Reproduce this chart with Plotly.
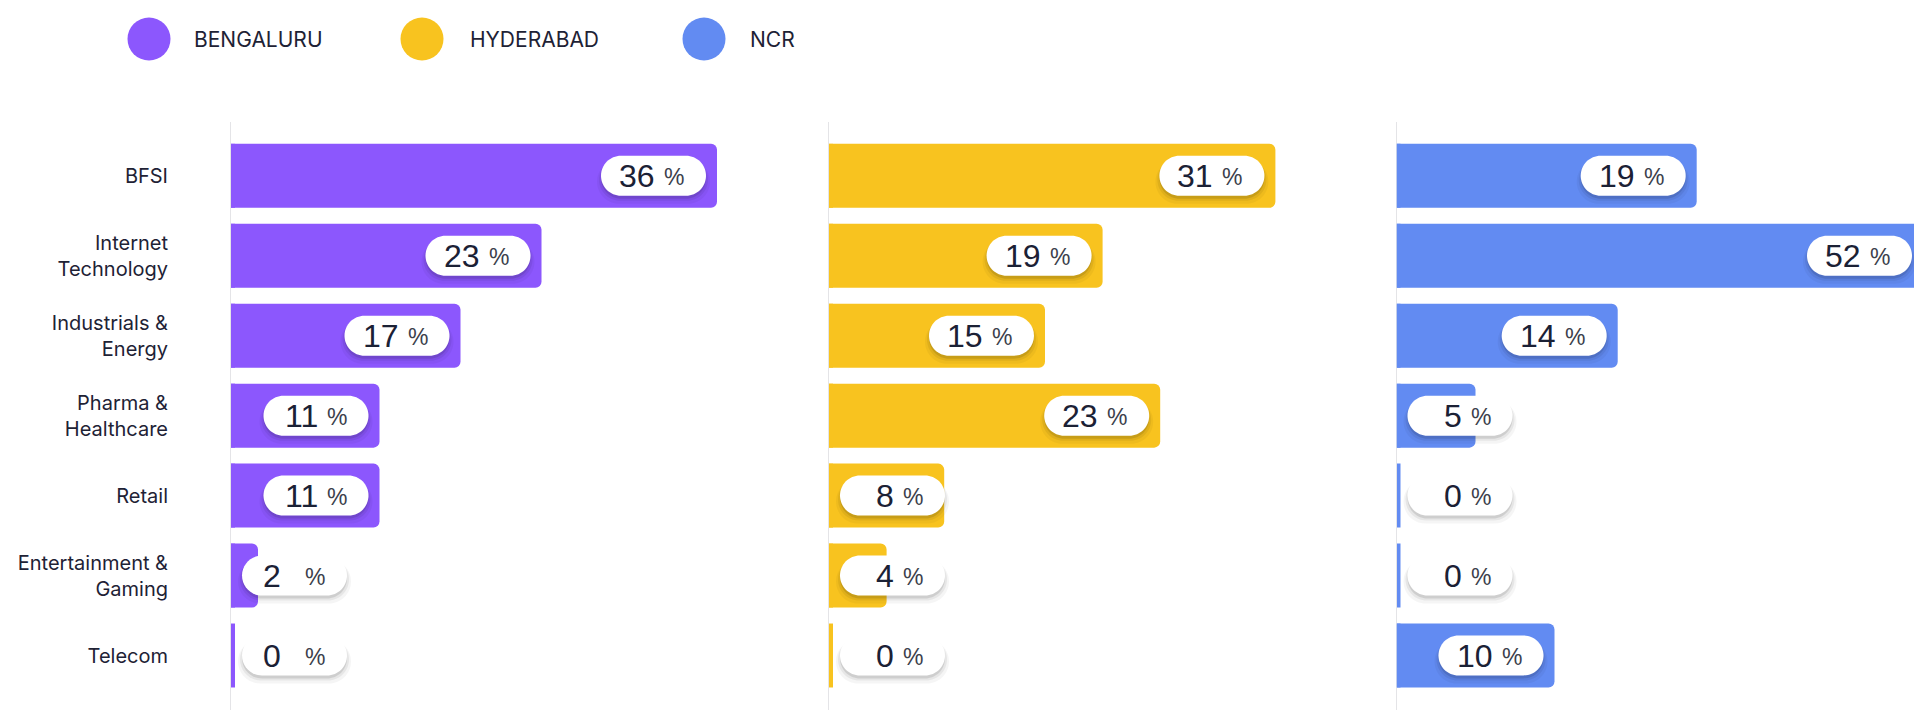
import plotly.graph_objects as go

# ---------------- data ----------------
categories = ["BFSI", "Internet Technology", "Industrials & Energy", "Pharma & Healthcare",
              "Retail", "Entertainment & Gaming", "Telecom"]
category_labels = ["BFSI", "Internet<br>Technology", "Industrials &<br>Energy", "Pharma &<br>Healthcare",
                   "Retail", "Entertainment &<br>Gaming", "Telecom"]
cities = ["BENGALURU", "HYDERABAD", "NCR"]
bengaluru = [36, 23, 17, 11, 11, 2, 0]
hyderabad = [31, 19, 15, 23, 8, 4, 0]
ncr = [19, 52, 14, 5, 0, 0, 10]
series = [bengaluru, hyderabad, ncr]

# ---------------- style / layout ----------------
colors = ["#8C57FD", "#F8C31F", "#628BF2"]
W, H = 1914, 710
panel_px = [(231, 810), (829, 1380), (1396.5, 1914)]
px_per_unit = [13.5, 14.4, 15.8]
plot_top_px = 122
n = len(categories)
row_px = 79.95
top_pad = (175.8 - plot_top_px) / row_px
y_units = (H - plot_top_px) / row_px
y_range = [y_units - top_pad, -top_pad]
label_color = "#1E2235"
FONT = "Inter, Roboto, sans-serif"
NUM_FONT = "'Liberation Sans', Arial, sans-serif"

fig = go.Figure()
shapes = []
annotations = []

PILL_W, PILL_H, PILL_GAP = 105, 40, 11
K = 0.5523


def pill_path(L, R, cy, h=PILL_H):
    r = h / 2
    k = K * r
    lx, rx = L + r, R - r
    return (f"M {lx},{cy + r} L {rx},{cy + r} "
            f"C {rx + k},{cy + r} {R},{cy + k} {R},{cy} "
            f"C {R},{cy - k} {rx + k},{cy - r} {rx},{cy - r} "
            f"L {lx},{cy - r} "
            f"C {lx - k},{cy - r} {L},{cy - k} {L},{cy} "
            f"C {L},{cy + k} {lx - k},{cy + r} {lx},{cy + r} Z")


for p, (vals, color, name) in enumerate(zip(series, colors, cities)):
    idx = "" if p == 0 else str(p + 1)
    xa, ya = "x" + idx, "y" + idx
    a_px, b_px = panel_px[p]
    dom_w = b_px - a_px
    rng = dom_w / px_per_unit[p]

    fig.add_trace(go.Bar(
        x=vals, y=list(range(n)), orientation="h", name=name,
        marker=dict(color=color, cornerradius=6, line=dict(width=0)),
        width=0.8, xaxis=xa, yaxis=ya, showlegend=False, hoverinfo="skip",
    ))

    fig.update_layout({
        "xaxis" + idx: dict(domain=[a_px / W, b_px / W], range=[0, rng], visible=False,
                            fixedrange=True),
        "yaxis" + idx: dict(domain=[0, (H - plot_top_px) / H], anchor=xa, range=y_range,
                            tickvals=list(range(n)), ticktext=category_labels,
                            showticklabels=(p == 0), ticks="", showgrid=False, zeroline=False,
                            showline=True, linecolor="#E4E4E7", linewidth=1,
                            layer="below traces", ticklabelstandoff=58,
                            tickfont=dict(family=FONT, size=20, color=label_color),
                            fixedrange=True),
    })

    for i, v in enumerate(vals):
        # minimum stub for tiny bars
        shapes.append(dict(type="rect", xref=xa, yref=ya, xsizemode="pixel", xanchor=0,
                           x0=0, x1=4, y0=i - 0.4, y1=i + 0.4, fillcolor=color,
                           line=dict(width=0), layer="below"))
        bar_w = v * px_per_unit[p]
        R = max(bar_w - PILL_GAP, PILL_GAP + PILL_W)
        R = min(R, dom_w - 2)
        L = R - PILL_W
        # shadows
        for dy, grow, op in [(-3, 0, 0.10), (-4, 2, 0.06), (-6, 4, 0.04)]:
            shapes.append(dict(type="path", xref=xa, yref=ya, xsizemode="pixel", xanchor=0,
                               ysizemode="pixel", yanchor=i,
                               path=pill_path(L - grow, R + grow, dy, PILL_H + grow),
                               fillcolor="black", opacity=op, line=dict(width=0), layer="above"))
        shapes.append(dict(type="path", xref=xa, yref=ya, xsizemode="pixel", xanchor=0,
                           ysizemode="pixel", yanchor=i, path=pill_path(L, R, 0),
                           fillcolor="white", line=dict(width=0), layer="above"))
        if p == 0 and v < 10:
            num_x, num_anchor = L + 19, "left"
        else:
            num_x, num_anchor = L + 56, "right"
        annotations.append(dict(
            xref=xa, yref=ya, x=0, y=i, xshift=num_x, yshift=0,
            xanchor=num_anchor, yanchor="middle", showarrow=False, text=str(v),
            font=dict(family=NUM_FONT, size=32, color="#1B2135"),
        ))
        annotations.append(dict(
            xref=xa, yref=ya, x=0, y=i, xshift=L + 61, yshift=-1,
            xanchor="left", yanchor="middle", showarrow=False, text="%",
            font=dict(family=NUM_FONT, size=23, color="#3C3F4C"),
        ))

# legend (circles + text)
legend_circle_x = [149, 422, 704]
legend_text_x = [191.6, 467.5, 748]
legend_y = 39
for name, color, cx, tx in zip(cities, colors, legend_circle_x, legend_text_x):
    shapes.append(dict(type="circle", xref="paper", yref="paper", xsizemode="pixel",
                       ysizemode="pixel", xanchor=cx / W, yanchor=1 - legend_y / H,
                       x0=-21.5, x1=21.5, y0=-21.5, y1=21.5, fillcolor=color, line=dict(width=0)))
    annotations.append(dict(xref="paper", yref="paper", x=tx / W, y=1 - legend_y / H,
                            xanchor="left", yanchor="middle", showarrow=False, text=name,
                            font=dict(family=FONT, size=21, color=label_color)))

fig.update_layout(
    width=W, height=H, autosize=False,
    margin=dict(l=0, r=0, t=0, b=0, pad=0),
    paper_bgcolor="white", plot_bgcolor="white",
    showlegend=False, bargap=0.2,
    shapes=shapes, annotations=annotations,
    font=dict(family=FONT, color=label_color),
)

fig.write_html("out.html", config={"displayModeBar": False},
               post_script="document.body.style.margin='0px';")
